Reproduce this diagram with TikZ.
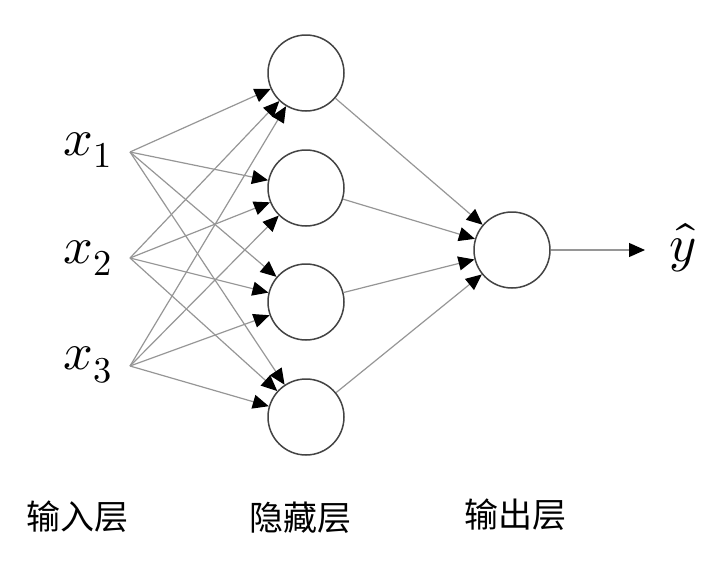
\documentclass[tikz,border=0pt]{standalone}
\usepackage{fontspec}
\usepackage{unicode-math}
\setmathfont{Latin Modern Math}
\newfontfamily\cjk{Noto Sans CJK SC}
\usetikzlibrary{arrows.meta}

\tikzset{
  neuron/.style={draw={rgb,255:red,68;green,68;blue,68},line width=1.5pt,circle,minimum size=76pt,inner sep=0pt,fill=white},
  link/.style={draw={rgb,255:red,150;green,150;blue,150},line width=1.2pt,-{Triangle[length=16pt,width=14pt,color=black]}},
  mathlabel/.style={inner sep=0pt,font=\fontsize{52}{58}\selectfont},
  layerlabel/.style={inner sep=0pt,font=\cjk\fontsize{34}{40}\selectfont}
}

\begin{document}
\begin{tikzpicture}[x=1pt,y=1pt,yscale=-1,xscale=1]
\useasboundingbox (0,0) rectangle (720,560);

% Input points
\coordinate (in1) at (130,152);
\coordinate (in2) at (130,258);
\coordinate (in3) at (130,366);

% Hidden layer
\node [neuron] (h1) at (306,73) {};
\node [neuron] (h2) at (306,188) {};
\node [neuron] (h3) at (306,302) {};
\node [neuron] (h4) at (306,417) {};

% Output layer
\node [neuron] (out) at (512,250) {};
\coordinate (yend) at (645,250);

% Input -> hidden
\draw [link] (in1) -- (h1);
\draw [link] (in1) -- (h2);
\draw [link] (in1) -- (h3);
\draw [link] (in1) -- (h4);
\draw [link] (in2) -- (h1);
\draw [link] (in2) -- (h2);
\draw [link] (in2) -- (h3);
\draw [link] (in2) -- (h4);
\draw [link] (in3) -- (h1);
\draw [link] (in3) -- (h2);
\draw [link] (in3) -- (h3);
\draw [link] (in3) -- (h4);

% Hidden -> output
\draw [link] (h1) -- (out);
\draw [link] (h2) -- (out);
\draw [link] (h3) -- (out);
\draw [link] (h4) -- (out);
\draw [link] (out) -- (yend);

% Text Node
\node [mathlabel] (x1) at (88,150) {$x_1$};
% Text Node
\node [mathlabel] (x2) at (88,258) {$x_2$};
% Text Node
\node [mathlabel] (x3) at (88,365) {$x_3$};
% Text Node
\node [mathlabel] (yhat) at (683,248) {$\hat{y}$};

% Text Node
\node [layerlabel] (lin) at (77,517) {输入层};
% Text Node
\node [layerlabel] (lhid) at (300,518) {隐藏层};
% Text Node
\node [layerlabel] (lout) at (515,515) {输出层};

\end{tikzpicture}
\end{document}
